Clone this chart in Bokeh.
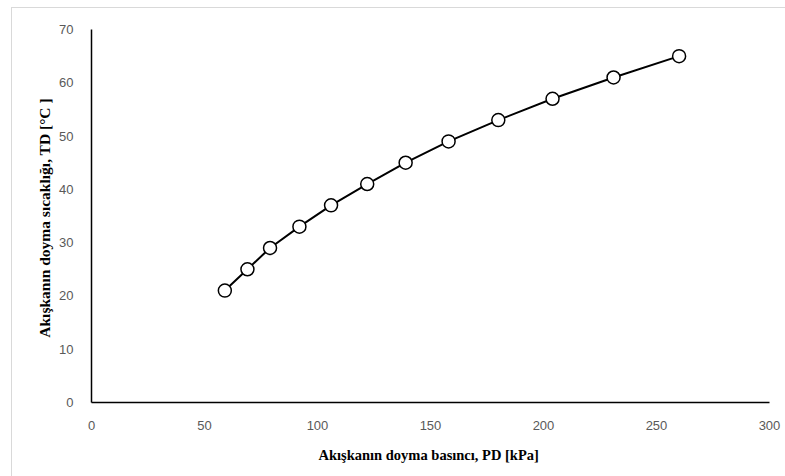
from bokeh.plotting import figure
from bokeh.embed import file_html
from bokeh.resources import INLINE
from bokeh.models import Range1d, FixedTicker

# Data
pressure_kpa = [59, 69, 79, 92, 106, 122, 139, 158, 180, 204, 231, 260]
temperature_c = [21, 25, 29, 33, 37, 41, 45, 49, 53, 57, 61, 65]
x_ticks = [0, 50, 100, 150, 200, 250, 300]
y_ticks = [0, 10, 20, 30, 40, 50, 60, 70]

p = figure(width=774, height=469, output_backend="svg", toolbar_location=None,
           x_range=Range1d(0, 300), y_range=Range1d(0, 70),
           min_border_left=79, min_border_top=21, min_border_right=17, min_border_bottom=75)
p.margin = (7, 0, 0, 11)
p.styles = {"border-top": "1px solid #d9d9d9", "border-left": "1px solid #d9d9d9"}

p.xgrid.visible = False
p.ygrid.visible = False
p.outline_line_color = None

for ax in (p.xaxis[0], p.yaxis[0]):
    ax.axis_line_color = "black"
    ax.axis_line_width = 1.5
    ax.major_tick_line_color = None
    ax.minor_tick_line_color = None
    ax.major_label_text_font = "Liberation Sans"
    ax.major_label_text_font_size = "13px"
    ax.major_label_text_color = "#595959"
    ax.axis_label_text_font = "Liberation Serif"
    ax.axis_label_text_font_style = "bold"
    ax.axis_label_text_color = "black"

p.xaxis.axis_label_text_font_size = "14.5px"
p.yaxis.axis_label_text_font_size = "15.5px"
p.xaxis.ticker = FixedTicker(ticks=x_ticks)
p.yaxis.ticker = FixedTicker(ticks=y_ticks)
p.xaxis.major_label_standoff = 12
p.yaxis.major_label_standoff = 12
p.xaxis.axis_label = "Akışkanın  doyma basıncı, PD [kPa]"
p.yaxis.axis_label = "Akışkanın  doyma sıcaklığı, TD [°C ]"
p.xaxis.axis_label_standoff = 14
p.yaxis.axis_label_standoff = 3

p.line(pressure_kpa, temperature_c, line_color="black", line_width=2)
p.scatter(pressure_kpa, temperature_c, size=13, marker="circle",
          fill_color="white", line_color="black", line_width=1.5)

open("out.html", "w").write(file_html(p, INLINE))
